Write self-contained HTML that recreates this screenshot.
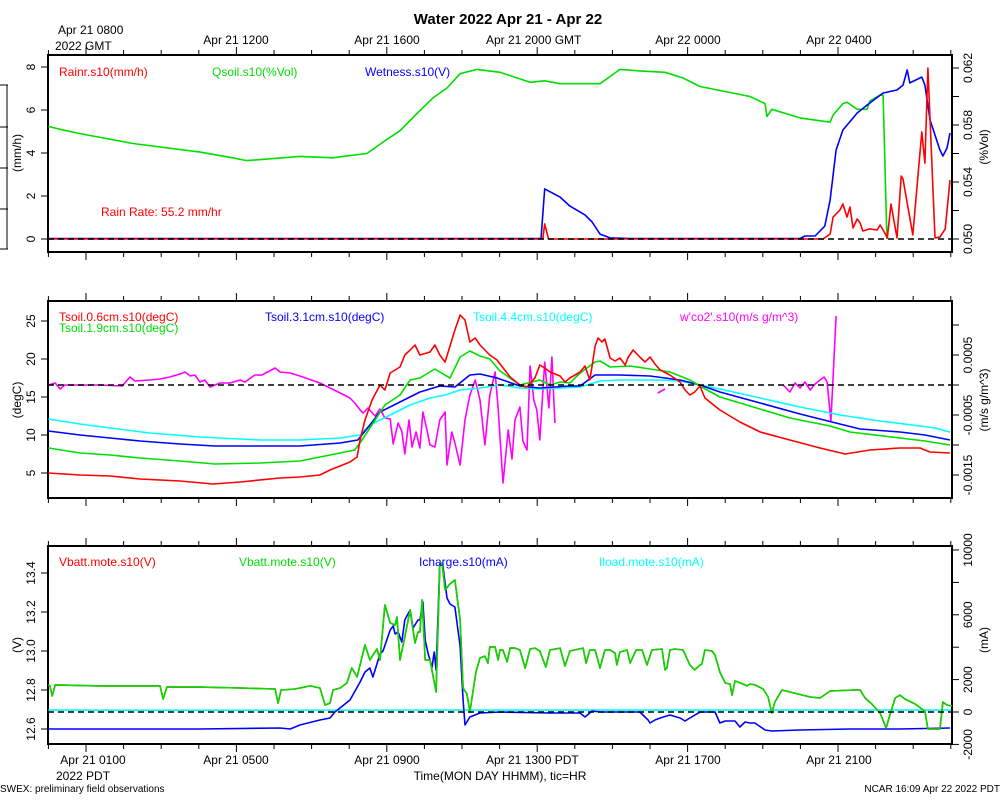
<!DOCTYPE html>
<html><head><meta charset="utf-8"><style>
html,body{margin:0;padding:0;background:#fff;}
svg{display:block;font-family:"Liberation Sans",sans-serif;}
</style></head><body>
<svg id="chart" width="1000" height="800" viewBox="0 0 1000 800">
<defs>
<clipPath id="c1"><rect x="48" y="55" width="904" height="197"/></clipPath>
<clipPath id="c2"><rect x="48" y="301" width="904" height="197"/></clipPath>
<clipPath id="c3"><rect x="48" y="546" width="904" height="198"/></clipPath>
</defs>
<text x="508" y="24" font-size="15" font-weight="bold" text-anchor="middle">Water 2022 Apr 21 - Apr 22</text>
<g id="axes"></g>
<g id="marks"></g>
<g font-size="12">
<text x="59" y="76" fill="#ff0000">Rainr.s10(mm/h)</text>
<text x="212" y="76" fill="#00dd00">Qsoil.s10(%Vol)</text>
<text x="365" y="76" fill="#0000ff">Wetness.s10(V)</text>
<text x="101" y="216" fill="#ff0000">Rain Rate: 55.2 mm/hr</text>
<text x="59" y="321" fill="#ff0000">Tsoil.0.6cm.s10(degC)</text>
<text x="59" y="332" fill="#00dd00">Tsoil.1.9cm.s10(degC)</text>
<text x="265" y="321" fill="#0000ff">Tsoil.3.1cm.s10(degC)</text>
<text x="473" y="321" fill="#00ffff">Tsoil.4.4cm.s10(degC)</text>
<text x="680" y="321" fill="#ff00ff">w'co2'.s10(m/s g/m^3)</text>
<text x="59" y="566" fill="#ff0000">Vbatt.mote.s10(V)</text>
<text x="239" y="566" fill="#00dd00">Vbatt.mote.s10(V)</text>
<text x="419" y="566" fill="#0000ff">Icharge.s10(mA)</text>
<text x="599" y="566" fill="#00ffff">Iload.mote.s10(mA)</text>
</g>
<g font-size="12" fill="#000">
<text x="58" y="34">Apr 21 0800</text>
<text x="55" y="50">2022 GMT</text>
<text x="236" y="44" text-anchor="middle">Apr 21 1200</text>
<text x="387" y="44" text-anchor="middle">Apr 21 1600</text>
<text x="486" y="44">Apr 21 2000 GMT</text>
<text x="688" y="44" text-anchor="middle">Apr 22 0000</text>
<text x="839" y="44" text-anchor="middle">Apr 22 0400</text>
<text x="93" y="764" text-anchor="middle">Apr 21 0100</text>
<text x="56" y="780">2022 PDT</text>
<text x="236" y="764" text-anchor="middle">Apr 21 0500</text>
<text x="387" y="764" text-anchor="middle">Apr 21 0900</text>
<text x="486" y="764">Apr 21 1300 PDT</text>
<text x="688" y="764" text-anchor="middle">Apr 21 1700</text>
<text x="839" y="764" text-anchor="middle">Apr 21 2100</text>
<text x="500" y="780" text-anchor="middle">Time(MON DAY HHMM), tic=HR</text>
</g>
<text x="0" y="792" font-size="10">SWEX: preliminary field observations</text>
<text x="1000" y="792" font-size="10" text-anchor="end">NCAR 16:09 Apr 22 2022 PDT</text>
</svg>
<script>
// ---- data (time = GMT hour from Apr 21 00:00) ----
const qsoilT=[7.0,7.31,7.84,9.25,11.03,11.9,12.27,13.69,14.57,14.83,15.47,15.9,16.35,16.8,17.23,17.6,17.95,18.4,19.01,19.81,20.2,20.61,21.4,21.67,21.94,22.2,22.73,23.4,23.88,24.33,25.66,26.06,26.11,26.24,26.99,27.79,27.87,28.13,28.24,28.51,28.77,28.85,29.12,29.2,29.3];
const qsoilV=[.0579,.0577,.0574,.0567,.0561,.0557,.0555,.0558,.0557,.0558,.0560,.0568,.0576,.0588,.0599,.0606,.0616,.0619,.0617,.0610,.0611,.0609,.0609,.0609,.0614,.0619,.0618,.0617,.0613,.0607,.0600,.0595,.0586,.0591,.0585,.0582,.0587,.0595,.0596,.0591,.0591,.0597,.0601,.0601,.0500];
const rainT=[7,20.15,20.2,20.3,27.6,27.79,27.87,28.05,28.13,28.24,28.32,28.40,28.51,28.59,28.66,28.85,29.04,29.12,29.2,29.31,29.41,29.57,29.68,29.73,29.99,30.23,30.31,30.39,30.58,30.71,30.85,30.98];
const rainV=[0,0,0.7,0,0,0.23,1.02,1.35,1.63,1.02,1.49,0.51,0.93,0.74,0.37,0.47,0.42,0.65,0.42,0.05,1.63,0.05,2.93,2.79,0.19,4.98,3.53,7.95,0.05,0.09,0.47,2.74];
const wetT=[7,20.1,20.2,20.61,20.87,21.27,21.46,21.67,21.94,22.5,26.99,27.12,27.39,27.65,27.79,27.95,28.13,28.51,28.77,29.2,29.57,29.73,29.84,29.91,30.23,30.31,30.45,30.71,30.79,30.9,30.98];
const wetV=[0.02,0.02,2.33,1.95,1.53,1.12,0.79,0.23,0.05,0.02,0.02,0.14,0.14,0.6,1.81,4.14,5.07,5.86,6.23,6.79,6.93,7.16,7.86,7.26,7.53,7.16,5.53,4.14,3.86,4.23,4.93];

const t06T=[7.0,7.84,8.64,9.44,10.5,11.38,12.1,13.16,13.69,14.22,14.49,15.02,15.21,15.29,15.42,15.61,15.82,15.95,16.09,16.35,16.48,16.62,16.75,16.88,17.15,17.28,17.41,17.55,17.81,17.95,18.08,18.21,18.35,18.48,18.74,18.93,19.28,19.54,19.73,19.94,20.07,20.2,20.34,20.61,20.74,20.87,21.14,21.27,21.4,21.46,21.54,21.62,21.72,21.8,21.94,22.07,22.2,22.34,22.41,22.55,22.73,22.87,23.0,23.13,23.27,23.53,23.8,23.93,24.06,24.19,24.33,24.46,24.86,25.39,25.93,26.72,27.52,28.19,28.85,29.65,30.18,30.45,30.98];
const t06V=[5.0,4.74,4.61,4.21,3.95,3.55,3.82,4.34,4.47,4.74,5.39,6.45,7.11,9.34,11.97,14.61,16.58,15.92,18.16,18.95,20.53,21.18,21.84,20.53,20.92,21.84,20.53,19.61,23.82,25.79,25.13,22.24,22.76,21.84,20.53,19.87,17.63,16.58,16.32,17.5,19.21,18.82,18.29,17.76,16.97,17.5,18.29,19.08,17.24,19.08,21.71,22.76,22.24,22.63,20.13,19.74,20.13,19.21,20.13,21.18,20.26,19.61,20.26,19.34,18.55,17.89,16.97,15.92,15.26,15.66,16.45,14.87,13.29,11.71,10.39,9.34,8.29,7.5,8.03,8.29,8.29,7.76,7.63];
const t19T=[7.0,7.84,8.64,9.44,10.5,11.43,12.63,13.69,14.49,15.15,15.34,15.69,15.95,16.35,16.62,16.88,17.28,17.41,17.68,17.95,18.21,18.48,18.74,19.01,19.54,20.07,20.34,20.61,20.87,21.14,21.54,21.67,21.94,22.47,23.0,23.53,24.06,24.33,24.86,25.66,26.72,27.79,28.32,29.65,30.31,30.98];
const t19V=[8.29,7.63,7.37,6.97,6.58,6.18,6.32,6.58,7.37,8.03,9.34,11.97,13.95,15.26,17.24,17.5,18.68,18.29,17.5,20.26,21.05,20.39,20.0,18.42,16.58,17.24,16.58,16.97,16.84,18.16,19.61,19.74,18.95,19.08,18.68,18.29,17.24,16.45,15.0,13.82,12.24,11.18,10.39,9.61,9.21,8.68];
const t31T=[7,7.84,8.64,9.44,10.5,11.43,13.69,14.76,15.23,15.55,15.82,16.35,16.88,17.41,17.81,18.21,18.48,18.93,19.54,20.07,20.87,21.14,21.54,22.2,23.0,23.8,24.33,24.86,25.93,26.99,28.05,28.59,29.65,30.31,30.98];
const t31V=[10.53,10.0,9.61,9.21,8.82,8.55,8.55,8.95,9.34,11.32,13.03,14.34,15.66,16.45,16.32,17.89,18.03,17.5,16.45,16.18,16.45,16.45,17.89,17.89,17.76,17.24,16.58,15.66,14.21,12.76,11.45,10.79,10.39,10.0,9.34];
const t44T=[7,7.84,8.64,9.7,11.03,12.63,13.69,14.76,15.29,15.55,16.09,16.62,17.15,17.55,17.95,18.48,19.01,19.54,20.07,20.61,21.14,21.67,22.2,23.27,23.8,24.33,24.86,25.93,26.99,28.05,29.12,30.18,30.58,30.98];
const t44V=[12.11,11.45,10.92,10.26,9.74,9.34,9.34,9.61,10.0,11.32,12.63,13.95,14.87,15.26,15.92,16.18,16.58,16.18,16.05,16.18,16.32,17.11,17.24,17.24,17.11,16.58,16.05,14.87,13.68,12.63,11.84,11.18,10.92,10.39];
const co2T=[7.0,7.18,7.31,7.44,8.37,8.96,9.17,9.30,9.70,9.97,10.23,10.5,10.63,10.77,10.9,11.03,11.16,11.3,11.56,11.83,12.1,12.23,12.49,12.68,13.03,13.16,13.43,13.69,14.22,14.49,14.76,15.02,15.15,15.29,15.37,15.5,15.69,15.82,15.95,16.09,16.17,16.3,16.4,16.48,16.59,16.67,16.78,16.88,16.96,17.07,17.15,17.28,17.41,17.55,17.6,17.73,17.81,17.95,18.08,18.21,18.35,18.48,18.61,18.74,18.88,18.96,19.09,19.23,19.33,19.41,19.54,19.62,19.73,19.81,19.91,19.99,20.07,20.2,20.31,20.39,20.47,20.6,23.21,23.4,23.5,26.54,26.72,26.86,26.99,27.12,27.26,27.39,27.52,27.63,27.71,27.81,27.95];
const co2V=[0,0.33e-4,-0.67e-4,0,0,-0.17e-4,1.33e-4,0.67e-4,0.83e-4,1.0e-4,1.33e-4,1.83e-4,2.17e-4,1.5e-4,1.67e-4,0.5e-4,0.83e-4,-0.33e-4,0.33e-4,0.33e-4,0.83e-4,0.5e-4,1.67e-4,1.67e-4,2.83e-4,2.17e-4,2.0e-4,1.5e-4,0.33e-4,-0.5e-4,-1.33e-4,-2.17e-4,-3.0e-4,-4.17e-4,-4.67e-4,-3.83e-4,-5.17e-4,-4.0e-4,-5.5e-4,-5.67e-4,-9.83e-4,-6.33e-4,-7.67e-4,-11.5e-4,-5.83e-4,-10.33e-4,-7.83e-4,-10.5e-4,-4.5e-4,-7.5e-4,-10.0e-4,-10.33e-4,-5.83e-4,-4.5e-4,-13.33e-4,-7.83e-4,-9.67e-4,-13.33e-4,-5.83e-4,-1.67e-4,0.83e-4,-2.5e-4,-10.0e-4,-1.67e-4,2.17e-4,-3.83e-4,-16.33e-4,-7.5e-4,-12.33e-4,-5.83e-4,-3.67e-4,-9.33e-4,-10.83e-4,3.17e-4,-2.5e-4,-4.17e-4,-9.17e-4,3.83e-4,-3.83e-4,4.67e-4,-6.33e-4,null,-1.33e-4,-0.67e-4,null,0,-1.17e-4,0.33e-4,-0.5e-4,0.5e-4,-0.83e-4,0.17e-4,0.83e-4,1.33e-4,0.5e-4,-6.0e-4,11.5e-4];

const vbT=[7.0,7.04,7.1,7.18,8.37,9.97,10.05,10.15,11.03,12.1,13.03,13.11,13.19,13.56,13.96,14.22,14.36,14.49,14.57,14.76,14.94,15.07,15.21,15.42,15.55,15.63,15.74,15.82,15.95,16.09,16.22,16.27,16.35,16.48,16.62,16.75,16.83,16.88,16.94,17.02,17.15,17.31,17.41,17.47,17.55,17.68,17.81,17.95,18.03,18.13,18.21,18.29,18.37,18.48,18.61,18.69,18.74,18.88,18.96,19.01,19.09,19.2,19.28,19.41,19.54,19.68,19.81,19.94,20.07,20.23,20.34,20.61,20.74,20.87,21.22,21.3,21.4,21.54,21.67,21.8,21.94,22.07,22.12,22.2,22.39,22.47,22.63,22.79,22.92,23.05,23.32,23.4,23.45,23.53,23.66,23.88,24.06,24.19,24.33,24.38,24.46,24.65,24.73,24.86,25.0,25.13,25.18,25.26,25.34,25.47,25.58,25.66,25.79,26.01,26.14,26.24,26.32,26.51,26.72,27.26,27.52,27.79,28.45,28.59,28.72,28.9,29.12,29.28,29.38,29.52,29.65,29.78,30.05,30.31,30.39,30.71,30.79,30.9,31.03];
const vbV=[12.826,12.821,12.769,12.826,12.821,12.821,12.754,12.815,12.815,12.81,12.805,12.733,12.8,12.805,12.821,12.81,12.723,12.733,12.8,12.81,12.836,12.913,12.867,13.031,12.954,12.979,13.01,12.954,13.236,13.144,13.133,13.174,12.954,13.072,13.21,13.041,13.097,13.097,13.262,12.954,12.954,12.79,13.441,13.451,13.313,13.344,13.364,13.159,12.81,12.779,12.687,12.79,12.892,12.964,12.974,12.938,13.021,13.021,12.954,13.005,13.005,12.944,13.015,13.015,13.005,12.913,13.01,13.015,13.0,12.918,13.005,13.015,12.923,13.0,13.015,12.938,13.005,13.005,12.913,13.005,13.005,12.99,12.928,12.995,13.005,12.938,13.005,13.005,12.928,13.005,13.01,12.903,12.913,13.005,13.01,13.005,12.928,12.903,12.928,12.933,13.005,13.0,12.979,12.892,12.836,12.831,12.774,12.846,12.841,12.831,12.821,12.831,12.826,12.805,12.764,12.682,12.738,12.8,12.79,12.764,12.759,12.795,12.8,12.8,12.759,12.728,12.682,12.605,12.672,12.759,12.774,12.754,12.728,12.692,12.6,12.6,12.738,12.723,12.718];
const icT=[7.0,8.37,11.03,13.16,13.43,13.69,14.22,14.49,14.62,15.02,15.29,15.42,15.55,15.63,15.82,15.9,16.09,16.17,16.22,16.3,16.4,16.48,16.62,16.7,16.83,16.88,16.96,17.02,17.1,17.15,17.2,17.26,17.31,17.41,17.49,17.6,17.68,17.81,17.95,18.03,18.08,18.21,18.48,19.01,20.34,21.14,21.27,21.46,21.67,22.47,22.73,22.95,23.0,23.13,23.27,23.53,23.8,23.93,24.06,24.33,24.73,24.86,25.0,25.26,25.39,25.53,25.66,25.79,26.06,26.24,26.99,28.32,29.65,30.98];
const icV=[-1049,-1049,-1049,-988,-1049,-802,-494,-370,0,741,1852,2469,2716,2160,3580,3765,5062,5309,4815,4938,4321,5679,6296,5185,5679,5679,6790,4444,3580,3210,2716,3704,2593,9136,9074,7037,6667,6481,4074,741,-802,-309,-62,0,-62,-62,-309,62,0,0,0,-494,-679,-494,-370,-185,-370,-556,-370,0,0,-679,-556,-556,-926,-617,-679,-679,-1111,-1173,-1111,-1049,-1049,-988];
const ilT=[7,12,18,24,31];
const ilV=[120,110,120,115,120];

// tick values
const p1Left=[0,2,4,6,8], p1Right=[0.050,0.054,0.058,0.062], p1RightMinor=[0.052,0.056,0.060];
const p2Left=[5,10,15,20,25], p2Right=[0.0005,-0.0005,-0.0015], p2RightMinor=[0.001,0,-0.001];
const p3Left=[12.6,12.8,13.0,13.2,13.4], p3Right=[-2000,0,2000,6000,10000], p3RightMinor=[4000,8000];
const hourTicks=[7,8,9,10,11,12,13,14,15,16,17,18,19,20,21,22,23,24,25,26,27,28,29,30,31];
const majorHours=[8,12,16,20,24,28];

// ---- scales ----
const X=t=>86+(t-8)*37.6;
const P1L=v=>239-v*21.5, P1R=q=>239-(q-0.05)*14250;
const P2L=T=>473-(T-5)*7.6, P2R=f=>385-f*60000;
const P3L=V=>729-(V-12.6)*195, P3R=m=>712-m*0.0162;

const NS='http://www.w3.org/2000/svg';
const axes=document.getElementById('axes'), marks=document.getElementById('marks');
function mk(tag,attrs,parent){const e=document.createElementNS(NS,tag);for(const k in attrs)e.setAttribute(k,attrs[k]);parent.appendChild(e);return e;}
function pathFor(ts,vs,fy){let d='',pen=false;for(let i=0;i<ts.length;i++){if(vs[i]===null){pen=false;continue;}d+=(pen?'L':'M')+X(ts[i]).toFixed(1)+','+fy(vs[i]).toFixed(1);pen=true;}return d;}
function series(ts,vs,fy,color,clip,name){
  const p=mk('path',{d:pathFor(ts,vs,fy),fill:'none',stroke:color,'stroke-width':1.6,'stroke-linejoin':'round','clip-path':'url(#'+clip+')'},marks);
  
  
}

const frames=[[55,252],[301,498],[546,744]];
frames.forEach((f,i)=>{
  const r=mk('rect',{x:48,y:f[0],width:904,height:f[1]-f[0],fill:'none',stroke:'#000','stroke-width':2},axes);
  
  
  hourTicks.forEach(h=>{
    const x=X(h), L=majorHours.includes(h)?8:5;
    const a=mk('line',{x1:x,x2:x,y1:f[0],y2:f[0]-L,stroke:'#000','stroke-width':1},axes);
    
    
    const b=mk('line',{x1:x,x2:x,y1:f[1],y2:f[1]+L,stroke:'#000','stroke-width':1},axes);
    
    
  });
});
function yTicks(vals,fy,side,labels,fmt){
  vals.forEach(v=>{
    const y=fy(v);
    const x1=side==='L'?48:952, x2=side==='L'?41:959;
    const l=mk('line',{x1:x1,x2:x2,y1:y,y2:y,stroke:'#000','stroke-width':1},axes);
    
    
    if(labels){
      const cx=side==='L'?31:968;
      const t=mk('text',{x:cx,y:y+4,'font-size':12,'text-anchor':'middle',transform:'rotate(-90 '+cx+' '+y+')'},axes);
      t.textContent=fmt(v);
      
      
    }
  });
}
yTicks(p1Left,P1L,'L',true,v=>String(v));
yTicks(p1Right,P1R,'R',true,v=>v.toFixed(3));
yTicks(p1RightMinor,P1R,'R',false);
yTicks(p2Left,P2L,'L',true,v=>String(v));
yTicks(p2Right,P2R,'R',true,v=>String(v));
yTicks(p2RightMinor,P2R,'R',false);
yTicks(p3Left,P3L,'L',true,v=>v.toFixed(1));
yTicks(p3Right,P3R,'R',true,v=>String(v));
yTicks(p3RightMinor,P3R,'R',false);

[['(mm/h)',17,153],['(%Vol)',984,147],['(degC)',17,400],['(m/s g/m^3)',984,400],['(V)',17,645],['(mA)',984,640]].forEach(a=>{
  const t=mk('text',{x:a[1],y:a[2]+4,'font-size':12,'text-anchor':'middle',transform:'rotate(-90 '+a[1]+' '+a[2]+')'},axes);
  t.textContent=a[0];
  
  
});

// ghost truncated axis at far left
const g=mk('path',{d:'M7,85V249M0,85H8M0,127H8M0,168H8M0,209H8M0,249H8',stroke:'#000','stroke-width':1,fill:'none'},axes);



// panel 1
series(qsoilT,qsoilV,P1R,'#00dd00','c1','qsoil-line');
series(wetT,wetV,P1L,'#0000ff','c1','wetness-line');
series(rainT,rainV,P1L,'#ff0000','c1','rainr-line');
// panel 2
series(co2T,co2V,P2R,'#ff00ff','c2','wco2-line');
series(t44T,t44V,P2L,'#00ffff','c2','tsoil-4.4-line');
series(t31T,t31V,P2L,'#0000ff','c2','tsoil-3.1-line');
series(t19T,t19V,P2L,'#00dd00','c2','tsoil-1.9-line');
series(t06T,t06V,P2L,'#ff0000','c2','tsoil-0.6-line');
// panel 3
series(ilT,ilV,P3R,'#00ffff','c3','iload-line');
series(icT,icV,P3R,'#0000ff','c3','icharge-line');
series(vbT,vbV,P3L,'#ff0000','c3','vbatt-red-line');
series(vbT,vbV,P3L,'#00dd00','c3','vbatt-green-line');

[P1L(0),P2R(0),P3R(0)].forEach(y=>{
  const d=mk('line',{x1:48,x2:952,y1:y,y2:y,stroke:'#000','stroke-width':1.6,'stroke-dasharray':'6,4'},marks);
  
  
});
</script>
</body></html>
